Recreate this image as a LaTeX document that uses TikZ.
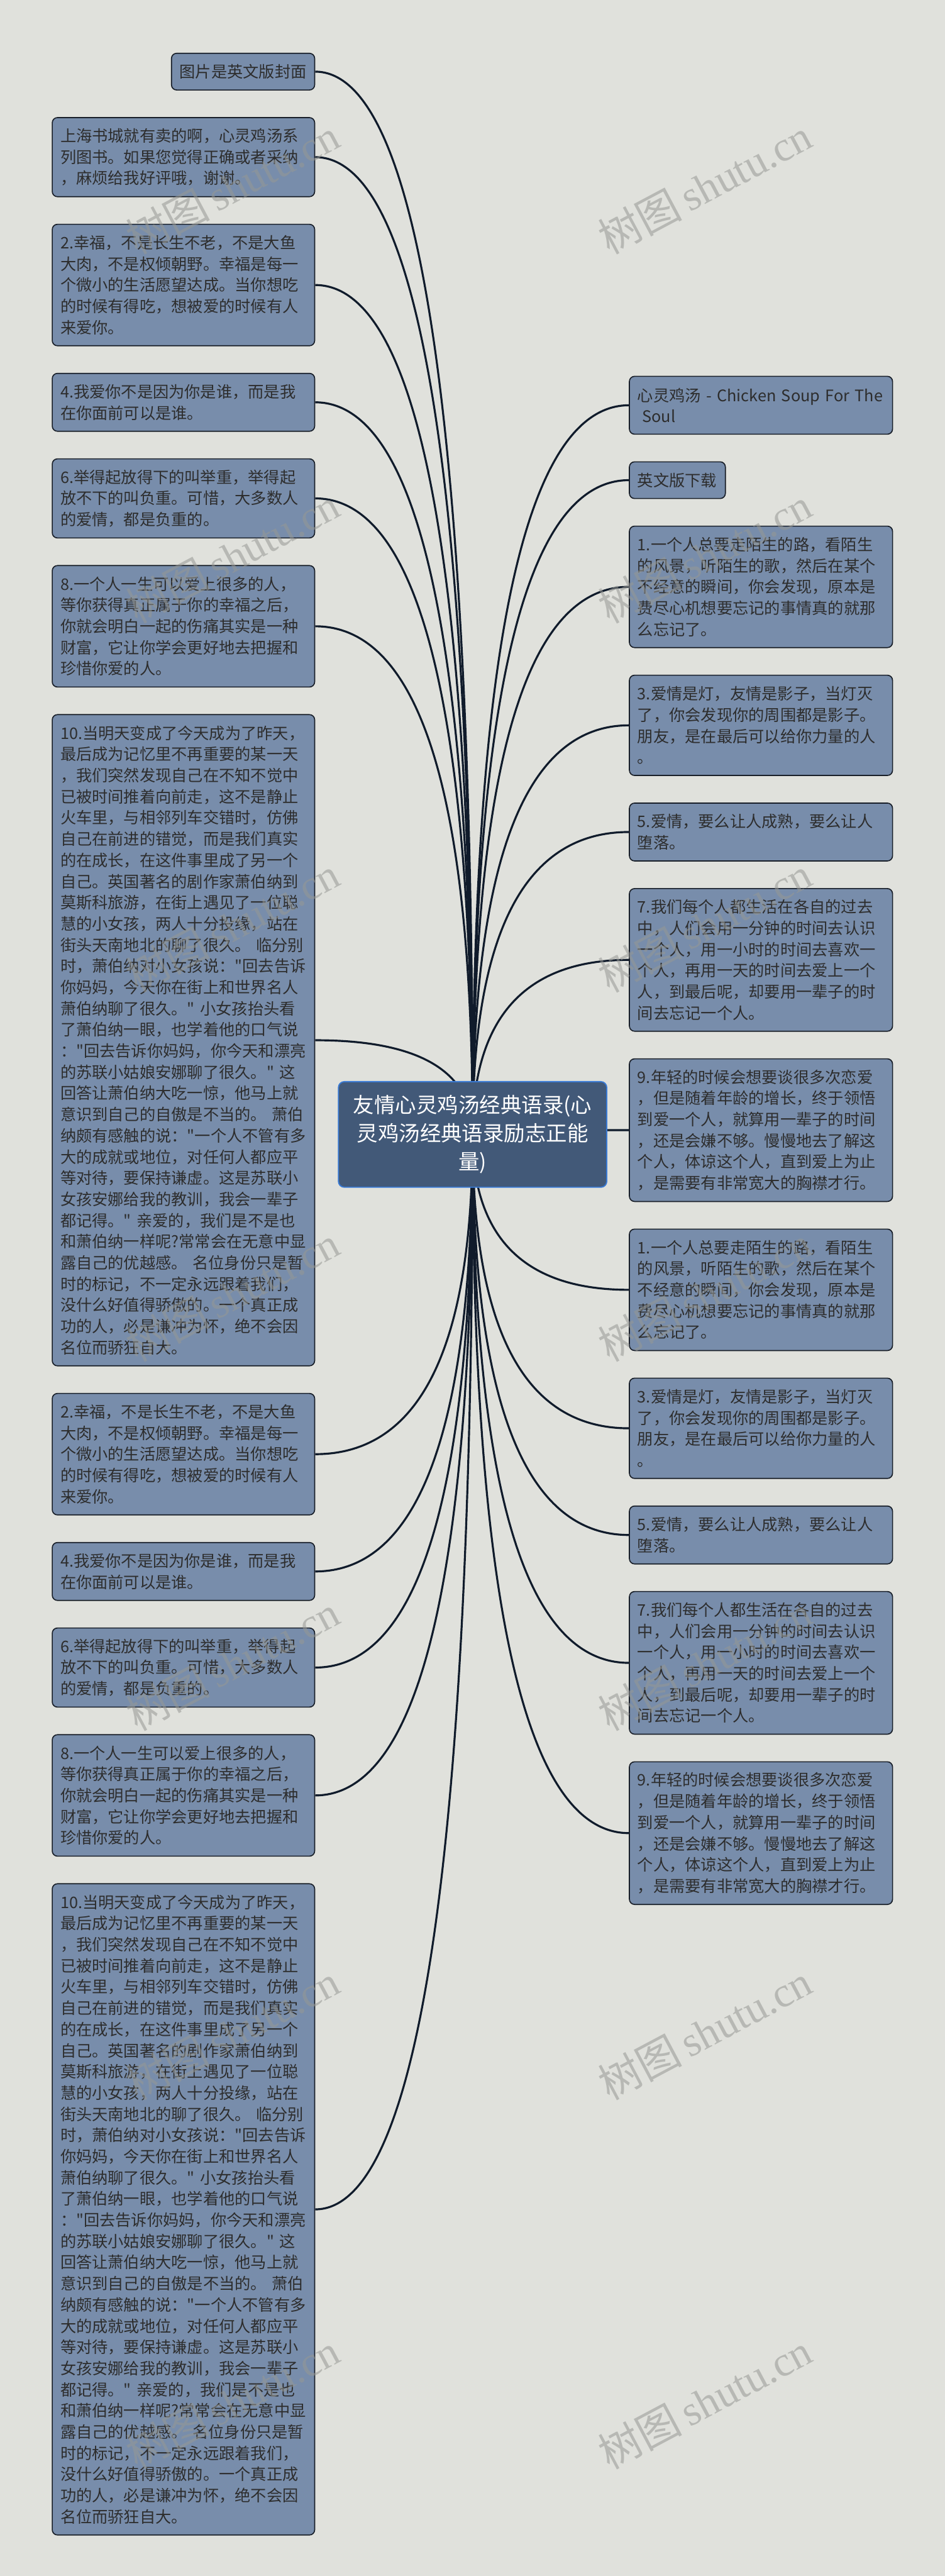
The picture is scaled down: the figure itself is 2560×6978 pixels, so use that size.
\documentclass[tikz,border=0pt]{standalone}
\usepackage{fontspec}
\newfontfamily\cjk{Noto Sans CJK SC}[Ligatures=TeXOff]
\newfontfamily\wmserif{Liberation Serif}
\usetikzlibrary{calc}
\definecolor{paper}{RGB}{224,225,220}
\definecolor{leaffill}{RGB}{120,141,171}
\definecolor{leafline}{RGB}{24,30,40}
\definecolor{leaftext}{RGB}{45,45,45}
\definecolor{rootfill}{RGB}{66,89,120}
\definecolor{rootline}{RGB}{58,122,212}
\definecolor{connc}{RGB}{16,27,43}
\definecolor{wmc}{RGB}{150,152,148}
\pgfdeclarelayer{paperlayer}
\pgfdeclarelayer{connlayer}
\pgfdeclarelayer{wmlayer}
\pgfsetlayers{paperlayer,connlayer,main,wmlayer}

\newcommand\mmTwo{2.幸福，不是长生不老，不是大鱼\\大肉，不是权倾朝野。幸福是每一\\个微小的生活愿望达成。当你想吃\\的时候有得吃，想被爱的时候有人\\来爱你。}
\newcommand\mmFour{4.我爱你不是因为你是谁，而是我\\在你面前可以是谁。}
\newcommand\mmSix{6.举得起放得下的叫举重，举得起\\放不下的叫负重。可惜，大多数人\\的爱情，都是负重的。}
\newcommand\mmEight{8.一个人一生可以爱上很多的人，\\等你获得真正属于你的幸福之后，\\你就会明白一起的伤痛其实是一种\\财富，它让你学会更好地去把握和\\珍惜你爱的人。}
\newcommand\mmTen{10.当明天变成了今天成为了昨天，\\最后成为记忆里不再重要的某一天\\，我们突然发现自己在不知不觉中\\已被时间推着向前走，这不是静止\\火车里，与相邻列车交错时，仿佛\\自己在前进的错觉，而是我们真实\\的在成长，在这件事里成了另一个\\自己。英国著名的剧作家萧伯纳到\\莫斯科旅游，在街上遇见了一位聪\\慧的小女孩，两人十分投缘，站在\\街头天南地北的聊了很久。~临分别\\时，萧伯纳对小女孩说："回去告诉\\你妈妈，今天你在街上和世界名人\\萧伯纳聊了很久。"~小女孩抬头看\\了萧伯纳一眼，也学着他的口气说\\："回去告诉你妈妈，你今天和漂亮\\的苏联小姑娘安娜聊了很久。"~这\\回答让萧伯纳大吃一惊，他马上就\\意识到自己的自傲是不当的。~萧伯\\纳颇有感触的说："一个人不管有多\\大的成就或地位，对任何人都应平\\等对待，要保持谦虚。这是苏联小\\女孩安娜给我的教训，我会一辈子\\都记得。"~亲爱的，我们是不是也\\和萧伯纳一样呢?常常会在无意中显\\露自己的优越感。~名位身份只是暂\\时的标记，不一定永远跟着我们，\\没什么好值得骄傲的。一个真正成\\功的人，必是谦冲为怀，绝不会因\\名位而骄狂自大。}
\newcommand\mmOne{1.一个人总要走陌生的路，看陌生\\的风景，听陌生的歌，然后在某个\\不经意的瞬间，你会发现，原本是\\费尽心机想要忘记的事情真的就那\\么忘记了。}
\newcommand\mmThree{3.爱情是灯，友情是影子，当灯灭\\了，你会发现你的周围都是影子。\\朋友，是在最后可以给你力量的人\\。}
\newcommand\mmFive{5.爱情，要么让人成熟，要么让人\\堕落。}
\newcommand\mmSeven{7.我们每个人都生活在各自的过去\\中，人们会用一分钟的时间去认识\\一个人，用一小时的时间去喜欢一\\个人，再用一天的时间去爱上一个\\人，到最后呢，却要用一辈子的时\\间去忘记一个人。}
\newcommand\mmNine{9.年轻的时候会想要谈很多次恋爱\\，但是随着年龄的增长，终于领悟\\到爱一个人，就算用一辈子的时间\\，还是会嫌不够。慢慢地去了解这\\个人，体谅这个人，直到爱上为止\\，是需要有非常宽大的胸襟才行。}

\tikzset{
  leaf/.style={draw=leafline, line width=0.7pt, fill=leaffill, rounded corners=3.5pt,
    text=leaftext, font=\cjk\fontsize{10.75pt}{14.35pt}\selectfont, align=left,
    inner xsep=5.5pt, inner ysep=0pt},
  leafL/.style={leaf, anchor=north east, text width=166.75pt},
  leafR/.style={leaf, anchor=north west, text width=167.25pt},
  h1/.style={minimum height=24.85pt},
  h2/.style={minimum height=39.2pt},
  h3/.style={minimum height=53.55pt},
  h4/.style={minimum height=67.9pt},
  h5/.style={minimum height=82.25pt},
  h6/.style={minimum height=96.6pt},
  h30/.style={minimum height=441pt},
  rootbox/.style={draw=rootline, line width=0.8pt, fill=rootfill, rounded corners=4pt,
    text=white, font=\cjk\fontsize{14.25pt}{19.25pt}\selectfont, align=center,
    minimum width=181.75pt, minimum height=71.5pt, inner sep=0pt},
  conn/.style={draw=connc, line width=1.35pt},
  wmark/.style={text=wmc, text opacity=0.55, rotate=28, inner sep=0pt,
    font=\fontsize{28.5pt}{30pt}\selectfont}
}

\begin{document}
\begin{tikzpicture}[x=0.25pt, y=-0.25pt]
\useasboundingbox (0,0) rectangle (2560,6978);
\begin{pgfonlayer}{paperlayer}
\fill[paper] (0,0) rectangle (2560,6978);
\end{pgfonlayer}

% root
\node[rootbox] (root) at (1280.5,3073) {友情心灵鸡汤经典语录(心\\灵鸡汤经典语录励志正能\\量)};

% left column
\node[leafL, h1, text width=86pt] (l1) at (854,143) {图片是英文版封面};
\node[leafL, h3] (l2) at ($(l1.south east)+(0,72)$) {上海书城就有卖的啊，心灵鸡汤系\\列图书。如果您觉得正确或者采纳\\，麻烦给我好评哦，谢谢。};
\node[leafL, h5] (l3) at ($(l2.south east)+(0,72)$) {\mmTwo};
\node[leafL, h2] (l4) at ($(l3.south east)+(0,72)$) {\mmFour};
\node[leafL, h3] (l5) at ($(l4.south east)+(0,72)$) {\mmSix};
\node[leafL, h5] (l6) at ($(l5.south east)+(0,72)$) {\mmEight};
\node[leafL, h30] (l7) at ($(l6.south east)+(0,72)$) {\mmTen};
\node[leafL, h5] (l8) at ($(l7.south east)+(0,72)$) {\mmTwo};
\node[leafL, h2] (l9) at ($(l8.south east)+(0,72)$) {\mmFour};
\node[leafL, h3] (l10) at ($(l9.south east)+(0,72)$) {\mmSix};
\node[leafL, h5] (l11) at ($(l10.south east)+(0,72)$) {\mmEight};
\node[leafL, h30] (l12) at ($(l11.south east)+(0,72)$) {\mmTen};

% right column
\node[leafR, h2] (r1) at (1704,1018) {心灵鸡汤~-~Chicken~Soup~For~The\\\hspace*{0.3em}Soul};
\node[leafR, h1, text width=54pt] (r2) at ($(r1.south west)+(0,72)$) {英文版下载};
\node[leafR, h5] (r3) at ($(r2.south west)+(0,72)$) {\mmOne};
\node[leafR, h4] (r4) at ($(r3.south west)+(0,72)$) {\mmThree};
\node[leafR, h2] (r5) at ($(r4.south west)+(0,72)$) {\mmFive};
\node[leafR, h6] (r6) at ($(r5.south west)+(0,72)$) {\mmSeven};
\node[leafR, h6] (r7) at ($(r6.south west)+(0,72)$) {\mmNine};
\node[leafR, h5] (r8) at ($(r7.south west)+(0,72)$) {\mmOne};
\node[leafR, h4] (r9) at ($(r8.south west)+(0,72)$) {\mmThree};
\node[leafR, h2] (r10) at ($(r9.south west)+(0,72)$) {\mmFive};
\node[leafR, h6] (r11) at ($(r10.south west)+(0,72)$) {\mmSeven};
\node[leafR, h6] (r12) at ($(r11.south west)+(0,72)$) {\mmNine};

% connectors
\begin{pgfonlayer}{connlayer}
\foreach \n in {l1,l2,l3,l4,l5,l6,l7,l8,l9,l10,l11,l12}
  \draw[conn] (root.center) .. controls ($(root.center)!0.6667!(root.center|-\n.east)$) and ($(\n.east)!0.6667!(root.center|-\n.east)$) .. (\n.east);
\foreach \n in {r1,r2,r3,r4,r5,r6,r7,r8,r9,r10,r11,r12}
  \draw[conn] (root.center) .. controls ($(root.center)!0.6667!(root.center|-\n.west)$) and ($(\n.west)!0.6667!(root.center|-\n.west)$) .. (\n.west);
\end{pgfonlayer}

% watermark
\begin{pgfonlayer}{wmlayer}
\foreach \r in {0,...,6}
  \foreach \c/\xx in {a/630,b/1910}
    \node[wmark] (wm-\c\r) at (\xx,{505+1000*\r}) {{\cjk 树图}\,{\wmserif shutu.cn}};
\end{pgfonlayer}
\end{tikzpicture}
\end{document}
